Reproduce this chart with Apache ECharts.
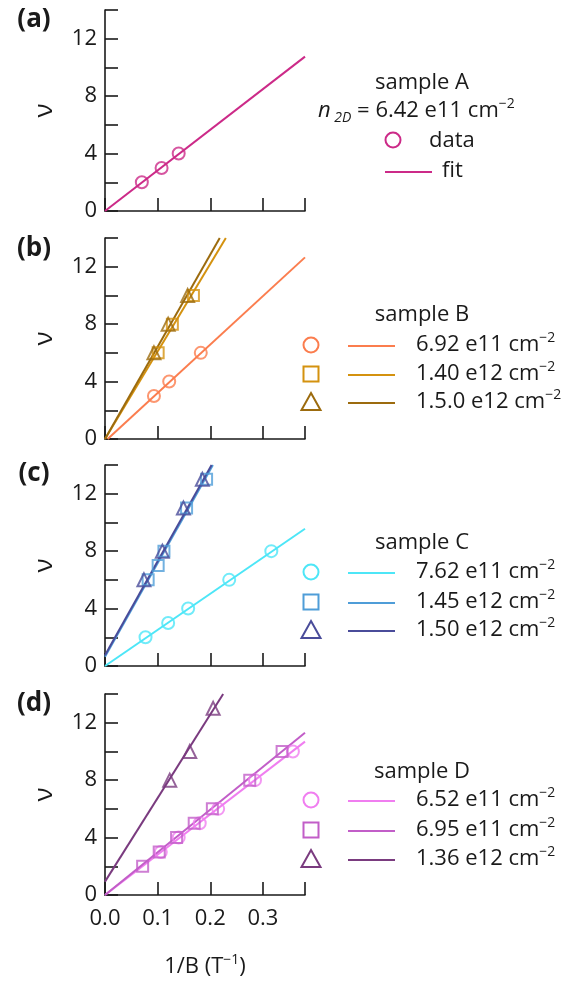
<!DOCTYPE html>
<html>
<head>
<meta charset="utf-8">
<script src="https://cdn.jsdelivr.net/npm/echarts@6/dist/echarts.min.js"></script>
<style>
  html, body { margin: 0; padding: 0; background: #fff; }
  #chart { width: 580px; height: 984px; }
</style>
</head>
<body>
<div id="chart"></div>
<script>
// x ticks shared by all panels
const xTicks = [0, 0.1, 0.2, 0.3]
const yTicks = [0, 4, 8, 12]

// (a) sample A
const aCircX = [0.070, 0.1075, 0.140]
const aCircY = [2, 3, 4]
const aFitX = [0, 0.38]
const aFitY = [0, 10.75]

// (b) sample B
const bCircX = [0.093, 0.122, 0.182]
const bCircY = [3, 4, 6]
const bSqX = [0.101, 0.128, 0.168]
const bSqY = [6, 8, 10]
const bTriX = [0.093, 0.120, 0.157]
const bTriY = [6, 8, 10]
const bCircFitX = [0.005, 0.38]
const bCircFitY = [0, 12.65]
const bSqFitX = [0, 0.2296]
const bSqFitY = [0, 14]
const bTriFitX = [0, 0.218]
const bTriFitY = [0, 14]

// (c) sample C
const cCircX = [0.077, 0.120, 0.158, 0.236, 0.316]
const cCircY = [2, 3, 4, 6, 8]
const cSqX = [0.082, 0.101, 0.112, 0.155, 0.193]
const cSqY = [6, 7, 8, 11, 13]
const cTriX = [0.074, 0.109, 0.149, 0.185]
const cTriY = [6, 8, 11, 13]
const cCircFitX = [0, 0.38]
const cCircFitY = [0, 9.56]
const cSqFitX = [0, 0.205]
const cSqFitY = [0.65, 14]
const cTriFitX = [0, 0.2025]
const cTriFitY = [0.75, 14]

// (d) sample D
const dCircX = [0.106, 0.140, 0.180, 0.215, 0.285, 0.357]
const dCircY = [3, 4, 5, 6, 8, 10]
const dSqX = [0.0715, 0.103, 0.136, 0.1695, 0.204, 0.275, 0.3365]
const dSqY = [2, 3, 4, 5, 6, 8, 10]
const dTriX = [0.123, 0.161, 0.2055]
const dTriY = [8, 10, 13]
const dCircFitX = [0, 0.38]
const dCircFitY = [0, 10.68]
const dSqFitX = [0, 0.38]
const dSqFitY = [0, 11.3]
const dTriFitX = [0, 0.2245]
const dTriFitY = [0.93, 14]

// legend texts
const sampleNames = ['sample A', 'sample B', 'sample C', 'sample D']
const bDensity = ['6.92 e11 cm', '1.40 e12 cm', '1.5.0 e12 cm']
const cDensity = ['7.62 e11 cm', '1.45 e12 cm', '1.50 e12 cm']
const dDensity = ['6.52 e11 cm', '6.95 e11 cm', '1.36 e12 cm']

const FONT = "'Open Sans', 'Noto Sans', sans-serif"
const colA = '#cc2a88'
const colB = ['#fb7d4e', '#d4920f', '#9c6b0e']
const colC = ['#4de6f7', '#4f9dd8', '#4a4c9a']
const colD = ['#f07ef0', '#c25ec8', '#7a3b7f']

const zip = (xs, ys) => xs.map((x, i) => [x, ys[i]])

function scatter(idx, xs, ys, symbol, color, size) {
  return {
    type: 'scatter', xAxisIndex: idx, yAxisIndex: idx,
    data: zip(xs, ys), symbol: symbol, symbolSize: size,
    itemStyle: { color: 'rgba(0,0,0,0)', borderColor: color, borderWidth: 2 },
    z: 3, silent: true
  }
}
function fit(idx, xs, ys, color) {
  return {
    type: 'line', xAxisIndex: idx, yAxisIndex: idx,
    data: zip(xs, ys), showSymbol: false, symbol: 'none',
    lineStyle: { color: color, width: 2 }, z: 2, silent: true, animation: false
  }
}

const gridTops = [10, 238, 465, 694]
const grids = gridTops.map(t => ({ left: 105, top: t, width: 200, height: 201 }))

const axisLineStyle = { color: '#1a1a1a', width: 1.6 }
const xAxes = gridTops.map((t, i) => ({
  type: 'value', gridIndex: i, min: 0, max: 0.38, interval: 0.1,
  axisLine: { show: true, onZero: false, lineStyle: axisLineStyle },
  axisTick: { show: true, inside: true, length: 13, lineStyle: axisLineStyle },
  splitLine: { show: false },
  axisLabel: {
    show: i === 3, margin: 13, fontSize: 22, fontFamily: FONT, color: '#1a1a1a',
    formatter: v => xTicks.some(t => Math.abs(t - v) < 1e-9) ? v.toFixed(1) : ''
  },
  name: i === 3 ? '{t|1/B (T}{s|−1}{t|)}' : '',
  nameLocation: 'middle', nameGap: 58,
  nameTextStyle: {
    rich: {
      t: { fontSize: 22, fontFamily: FONT, color: '#1a1a1a', lineHeight: 28 },
      s: { fontSize: 14, fontFamily: FONT, color: '#1a1a1a', verticalAlign: 'top', lineHeight: 16 }
    }
  }
}))
const yAxes = gridTops.map((t, i) => ({
  type: 'value', gridIndex: i, min: 0, max: 14, interval: 2,
  axisLine: { show: true, lineStyle: axisLineStyle },
  axisTick: { show: true, inside: true, length: 13, lineStyle: axisLineStyle },
  splitLine: { show: false },
  axisLabel: {
    margin: 8, fontSize: 22, fontFamily: FONT, color: '#1a1a1a',
    formatter: v => yTicks.indexOf(v) >= 0 ? String(v) : ''
  },
  name: 'ν', nameLocation: 'middle', nameRotate: 90, nameGap: 47,
  nameTextStyle: { fontSize: 26, fontFamily: FONT, color: '#1a1a1a' }
}))

const series = [
  fit(0, aFitX, aFitY, colA),
  scatter(0, aCircX, aCircY, 'circle', colA, 12),

  fit(1, bCircFitX, bCircFitY, colB[0]),
  fit(1, bSqFitX, bSqFitY, colB[1]),
  fit(1, bTriFitX, bTriFitY, colB[2]),
  scatter(1, bCircX, bCircY, 'circle', colB[0], 12),
  scatter(1, bSqX, bSqY, 'rect', colB[1], 11),
  scatter(1, bTriX, bTriY, 'triangle', colB[2], 13),

  fit(2, cCircFitX, cCircFitY, colC[0]),
  fit(2, cSqFitX, cSqFitY, colC[1]),
  fit(2, cTriFitX, cTriFitY, colC[2]),
  scatter(2, cCircX, cCircY, 'circle', colC[0], 12),
  scatter(2, cSqX, cSqY, 'rect', colC[1], 11),
  scatter(2, cTriX, cTriY, 'triangle', colC[2], 13),

  fit(3, dCircFitX, dCircFitY, colD[0]),
  fit(3, dSqFitX, dSqFitY, colD[1]),
  fit(3, dTriFitX, dTriFitY, colD[2]),
  scatter(3, dCircX, dCircY, 'circle', colD[0], 12),
  scatter(3, dSqX, dSqY, 'rect', colD[1], 11),
  scatter(3, dTriX, dTriY, 'triangle', colD[2], 13)
]

// ---- legends and panel labels (graphic) ----
const richLegend = {
  t: { fontSize: 22, fontFamily: FONT, fill: '#1a1a1a', lineHeight: 28 },
  s: { fontSize: 14, fontFamily: FONT, fill: '#1a1a1a', verticalAlign: 'top', lineHeight: 16 },
  i: { fontSize: 22, fontFamily: FONT, fontStyle: 'italic', fill: '#1a1a1a', lineHeight: 28 },
  sub: { fontSize: 14, fontFamily: FONT, fontStyle: 'italic', fill: '#1a1a1a', verticalAlign: 'bottom', lineHeight: 14 }
}
function txt(x, y, text, align) {
  return {
    type: 'text', x: x, y: y, silent: true,
    style: { text: text, rich: richLegend, align: align || 'left', verticalAlign: 'middle' }
  }
}
function plain(x, y, text, align, size, weight) {
  return {
    type: 'text', x: x, y: y, silent: true,
    style: {
      text: text, align: align, verticalAlign: 'middle', fill: '#1a1a1a',
      font: (weight || 'normal') + ' ' + size + 'px ' + FONT
    }
  }
}
function marker(kind, cx, cy, color) {
  const st = { fill: 'none', stroke: color, lineWidth: 2 }
  if (kind === 'circle') return { type: 'circle', silent: true, shape: { cx: cx, cy: cy, r: 7.5 }, style: st }
  if (kind === 'rect') return { type: 'rect', silent: true, shape: { x: cx - 7.5, y: cy - 7.5, width: 15, height: 15 }, style: st }
  return { type: 'polygon', silent: true, shape: { points: [[cx, cy - 9], [cx + 9.5, cy + 8], [cx - 9.5, cy + 8]] }, style: st }
}
function seg(x1, x2, y, color) {
  return { type: 'line', silent: true, shape: { x1: x1, y1: y, x2: x2, y2: y }, style: { stroke: color, lineWidth: 2 } }
}

const graphic = []
const panelLabels = ['(a)', '(b)', '(c)', '(d)']
const panelLabelY = [20, 249, 474, 704]
panelLabels.forEach((l, i) => graphic.push(plain(34, panelLabelY[i], l, 'center', 26, 'bold')))

// legend A
graphic.push(plain(422, 83, sampleNames[0], 'center', 22))
graphic.push(txt(318, 111, '{i|n}{sub| 2D}{t| = 6.42 e11 cm}{s|−2}'))
graphic.push(marker('circle', 393, 140, colA))
graphic.push(plain(429, 141, 'data', 'left', 22))
graphic.push(seg(385, 432, 172, colA))
graphic.push(plain(442, 171, 'fit', 'left', 22))

const kinds = ['circle', 'rect', 'triangle']
function rowLegend(titleY, rowsY, cols, texts, name) {
  graphic.push(plain(422, titleY, name, 'center', 22))
  rowsY.forEach((y, k) => {
    graphic.push(marker(kinds[k], 311, y, cols[k]))
    graphic.push(seg(348, 395, y + 1, cols[k]))
    graphic.push(txt(416, y, '{t|' + texts[k] + '}{s|−2}'))
  })
}
rowLegend(315, [345, 374, 402], colB, bDensity, sampleNames[1])
rowLegend(543, [572, 602, 630], colC, cDensity, sampleNames[2])
rowLegend(772, [800, 830, 859], colD, dDensity, sampleNames[3])

const chart = echarts.init(document.getElementById('chart'))
chart.setOption({
  animation: false,
  backgroundColor: '#fff',
  grid: grids,
  xAxis: xAxes,
  yAxis: yAxes,
  series: series,
  graphic: graphic
})
</script>
</body>
</html>
